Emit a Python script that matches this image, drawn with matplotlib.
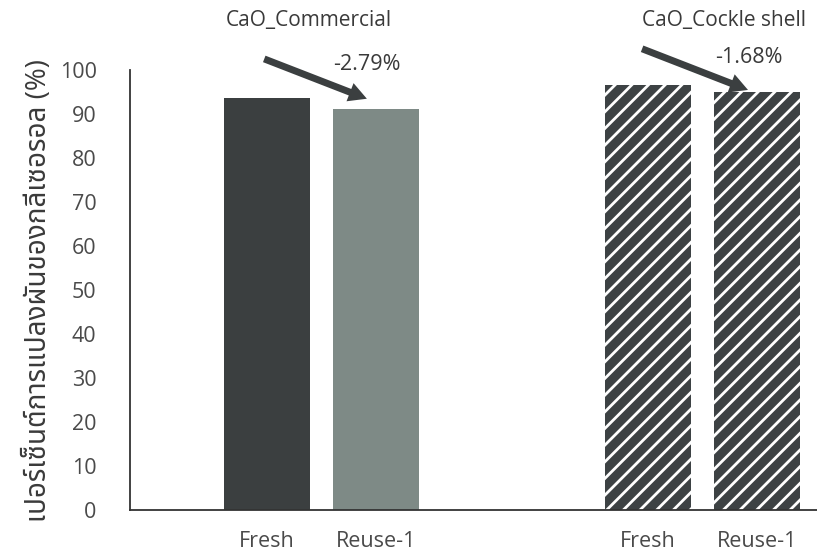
import numpy as np
import matplotlib
matplotlib.use("Agg")
import matplotlib.pyplot as plt

# กลุ่มตัวเร่งปฏิกิริยาและค่าการแปลงผันของกลีเซอรอล (%)
groups = ["CaO_Commercial", "CaO_Cockle shell"]
runs = ["Fresh", "Reuse-1"]
commercial = [93.6, 91.0]
cockle = [96.5, 94.9]
drop_labels = ["-2.79%", "-1.68%"]

plt.rcParams["font.family"] = ["Open Sans", "Noto Sans Thai", "Loma", "Garuda",
                               "Tlwg Typo", "Norasi", "DejaVu Sans"]
text_col = "#3a3a3a"

fig = plt.figure(figsize=(8.17, 5.54), dpi=100)
ax = fig.add_axes([0.159, 0.079, 0.841, 0.795])

pos = np.array([0, 1, 3.5, 4.5])
w = 0.79
ax.bar(pos[0], commercial[0], w, color="#3b3f40")
ax.bar(pos[1], commercial[1], w, color="#7e8a86")
plt.rcParams["hatch.linewidth"] = 2.0
for p, v in zip(pos[2:], cockle):
    ax.bar(p, v, w, color="#3d4244", edgecolor="white", linewidth=0, hatch="//")

ax.set_xlim(-1.26, 5.05)
ax.set_ylim(0, 100)
ax.set_yticks(np.arange(0, 101, 10))
ax.set_xticks(pos)
ax.set_xticklabels(runs * 2)
ax.tick_params(axis="both", length=0, labelsize=15.5, colors="#4a4a4a")
ax.tick_params(axis="y", pad=24)
ax.tick_params(axis="x", pad=15)
for s in ["top", "right"]:
    ax.spines[s].set_visible(False)
for s in ["left", "bottom"]:
    ax.spines[s].set_color("#333333")
    ax.spines[s].set_linewidth(1.3)

ax.set_ylabel("เปอร์เซ็นต์การแปลงผันของกลีเซอรอล (%)", fontsize=20,
              color=text_col, labelpad=5)

# ชื่อกลุ่ม ลูกศร และค่าที่ลดลงหลังการใช้ซ้ำ
vals = [commercial, cockle]
title_dx = [-0.12, 0.2]
lab_dy = [10.3, 8.0]
tail = [(-0.05, 9.1), (-0.08, 8.5)]
tip_dy = [2.2, 0.3]
for g, (name, v, lab) in enumerate(zip(groups, vals, drop_labels)):
    x0, x1 = pos[2 * g], pos[2 * g + 1]
    ax.text((x0 + x1) / 2 + title_dx[g], 111.2, name, ha="center", va="center",
            fontsize=15, color=text_col, clip_on=False)
    ax.text(x1 - 0.08, v[1] + lab_dy[g], lab, ha="center", va="center",
            fontsize=15.5, color=text_col, clip_on=False)
    ax.annotate("", xy=(x1 - 0.06, v[1] + tip_dy[g]),
                xytext=(x0 + tail[g][0], v[0] + tail[g][1]),
                annotation_clip=False,
                arrowprops=dict(arrowstyle="simple,head_length=1.3,head_width=1.4,tail_width=0.5",
                                color="#3b3f40", lw=0))

fig.savefig("out.png", dpi=100)
